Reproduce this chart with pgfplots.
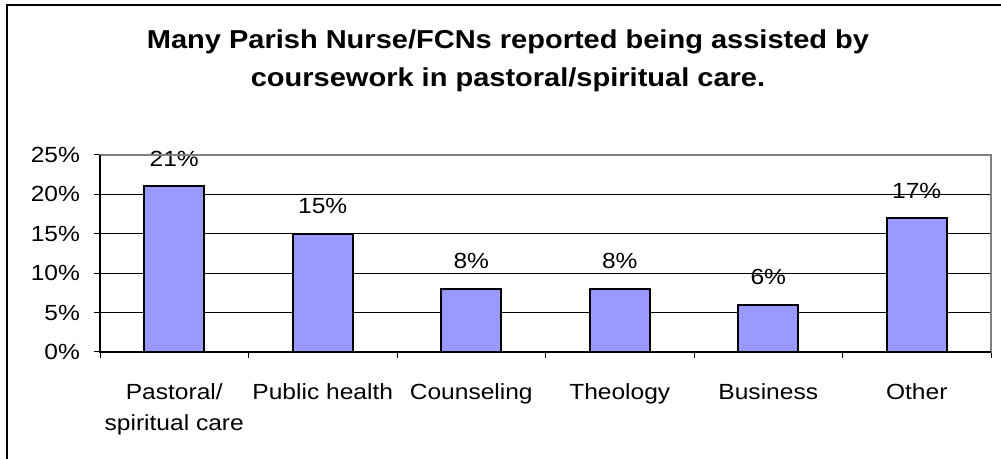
\documentclass[border=0pt]{standalone}
\usepackage{fontspec}
\setmainfont{Liberation Sans}[FakeStretch=1.12]
\usepackage{pgfplots}
\pgfplotsset{compat=1.18}
\definecolor{barblue}{RGB}{153,153,255}
\definecolor{framegray}{RGB}{128,128,128}

\begin{document}
\begin{tikzpicture}[x=0.5bp,y=0.5bp]
\useasboundingbox (0,0) rectangle (1001,459);
\draw[line width=1bp] (7,-5) -- (7,453.5) -- (1010,453.5);
\node[font=\fontsize{13}{15}\selectfont\bfseries, anchor=base] at (508,410) {Many Parish Nurse/FCNs reported being assisted by};
\node[font=\fontsize{13}{15}\selectfont\bfseries, anchor=base] at (508,372.5) {coursework in pastoral/spiritual care.};
\begin{axis}[
  at={(50bp,53.5bp)}, anchor=south west,
  scale only axis, width=445.5bp, height=98.5bp,
  ybar, bar width=30bp,
  xmin=-0.5, xmax=5.5, ymin=0, ymax=25,
  xtick={-0.5,0.5,...,5.5}, xticklabels={},
  extra x ticks={0,1,2,3,4,5},
  extra x tick labels={{Pastoral/\\spiritual care},Public health,Counseling,Theology,Business,Other},
  extra x tick style={major tick length=0pt,
    xticklabel style={align=center, anchor=north, yshift=-12.5bp,
      font=\fontsize{11}{15.5}\selectfont}},
  ytick={0,5,...,25}, yticklabels={0\%,5\%,10\%,15\%,20\%,25\%},
  yticklabel style={font=\fontsize{11}{13}\selectfont, xshift=-3.5bp},
  ymajorgrids, grid style={black, line width=0.5bp},
  tick align=outside, tick pos=left, major tick length=3bp,
  tick style={black, line width=0.5bp},
  axis line style={framegray, line width=1bp},
  nodes near coords={\pgfmathprintnumber[assume math mode=true]{\pgfplotspointmeta}\%},
  every node near coord/.append style={font=\fontsize{11}{13}\selectfont, anchor=base, yshift=10bp},
  after end axis/.code={
    \draw[framegray, line width=1bp] (rel axis cs:0,1) -- (rel axis cs:1,1) -- (rel axis cs:1,0);
    \draw[black, line width=1bp] (rel axis cs:0,1) -- (rel axis cs:0,0) -- (rel axis cs:1,0);
  },
]
\addplot[fill=barblue, draw=black, line width=1bp]
  coordinates {(0,21) (1,15) (2,8) (3,8) (4,6) (5,17)};
\end{axis}
\end{tikzpicture}
\end{document}
